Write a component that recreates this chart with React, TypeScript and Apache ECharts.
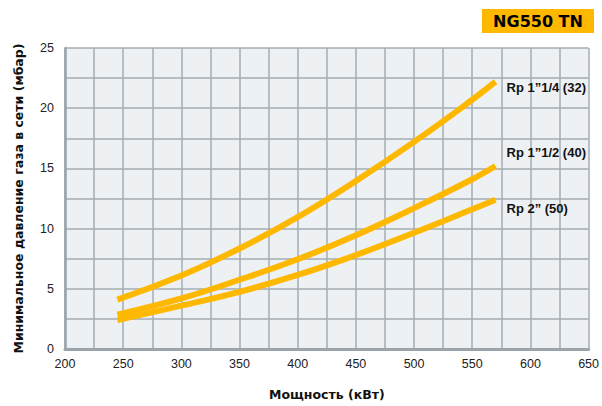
import React, { useEffect, useRef } from "react";
import * as echarts from "echarts";

const powerKW = [245, 300, 350, 400, 450, 500, 550, 570];
const rp114 = [4.1, 6.1, 8.35, 10.95, 13.95, 17.2, 20.7, 22.2];
const rp112 = [2.85, 4.2, 5.75, 7.45, 9.45, 11.7, 14.1, 15.2];
const rp2 = [2.4, 3.6, 4.75, 6.15, 7.8, 9.65, 11.6, 12.4];
const seriesNames = ["Rp 1\u201D1/4 (32)", "Rp 1\u201D1/2 (40)", "Rp 2\u201D (50)"];
const labelDy = [6, -13, 9];
const title = "NG550 TN";
const xName = "Мощность (кВт)";
const yName = "Минимальное давление газа в сети (мбар)";

const ORANGE = "#FFB800";
const GRIDC = "#a3adb5";

export default function App() {
  const ref = useRef<HTMLDivElement>(null);
  useEffect(() => {
    if (!ref.current) return;
    const chart = echarts.init(ref.current, null, { renderer: "svg" });
    const all = [rp114, rp112, rp2];
    chart.setOption({
      animation: false,
      backgroundColor: "#ffffff",
      grid: {
        left: 65,
        top: 48,
        width: 528,
        height: 307,
        show: true,
        backgroundColor: "#eef1f4",
        borderWidth: 0,
      },
      graphic: [
        {
          type: "rect",
          shape: { x: 482, y: 9, width: 112, height: 24 },
          style: { fill: ORANGE },
        },
        {
          type: "text",
          x: 538,
          y: 21,
          style: {
            text: title,
            fill: "#000",
            font: "bold 16px 'DejaVu Sans'",
            align: "center",
            verticalAlign: "middle",
          },
        },
      ],
      xAxis: {
        type: "value",
        min: 200,
        max: 650,
        interval: 25,
        name: xName,
        nameLocation: "middle",
        nameGap: 39,
        nameTextStyle: { fontFamily: "DejaVu Sans", fontWeight: "bold", fontSize: 12.5, color: "#111" },
        axisLine: { show: true, lineStyle: { color: "#9aa4ac", width: 3 } },
        axisTick: { show: false },
        axisLabel: {
          margin: 8,
          fontFamily: "Liberation Sans, Arial",
          fontSize: 12.5,
          color: "#222",
          formatter: (v: number) => (v % 50 === 0 ? String(v) : ""),
        },
        splitLine: { show: true, lineStyle: { color: GRIDC, width: 1.5 } },
      },
      yAxis: {
        type: "value",
        min: 0,
        max: 25,
        interval: 2.5,
        name: yName,
        nameLocation: "middle",
        nameGap: 40,
        nameTextStyle: { fontFamily: "DejaVu Sans", fontWeight: "bold", fontSize: 12.5, color: "#111" },
        axisLine: { show: true, lineStyle: { color: "#9aa4ac", width: 2.5 } },
        axisTick: { show: false },
        axisLabel: {
          margin: 11,
          fontFamily: "Liberation Sans, Arial",
          fontSize: 12.5,
          color: "#222",
          formatter: (v: number) => (v % 5 === 0 ? String(v) : ""),
        },
        splitLine: { show: true, lineStyle: { color: GRIDC, width: 1.5 } },
      },
      series: all.map((vals, i) => ({
        type: "line",
        name: seriesNames[i],
        data: powerKW.map((x, j) => [x, vals[j]]),
        smooth: 0.4,
        showSymbol: false,
        symbol: "none",
        lineStyle: { color: ORANGE, width: 6, cap: "butt" },
        endLabel: {
          show: true,
          formatter: seriesNames[i],
          position: "right",
          distance: 0,
          offset: [11, labelDy[i]],
          fontFamily: "Liberation Sans, Arial",
          fontWeight: "bold",
          fontSize: 13,
          color: "#111",
        },
      })),
    });
    return () => chart.dispose();
  }, []);
  return (
    <div
      ref={ref}
      style={{ position: "fixed", left: 0, top: 0, width: 602, height: 406 }}
    />
  );
}
